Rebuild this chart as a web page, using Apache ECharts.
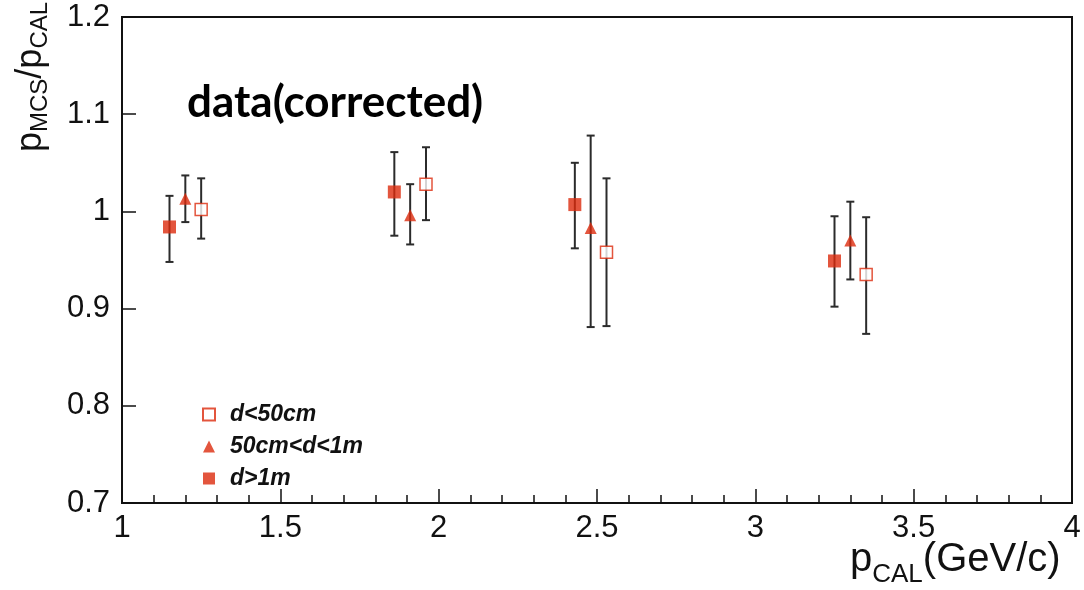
<!DOCTYPE html>
<html>
<head>
<meta charset="utf-8">
<script src="https://cdn.jsdelivr.net/npm/echarts@6/dist/echarts.min.js"></script>
<style>
  html, body { margin: 0; padding: 0; background: #fff; }
  #chart { width: 1084px; height: 590px; }
</style>
</head>
<body>
<div id="chart"></div>
<script>
// series names
const seriesNames = ['d<50cm', '50cm<d<1m', 'd>1m'];

// d<50cm (open squares)
const openX = [1.25, 1.96, 2.53, 3.35];
const openY = [1.002, 1.028, 0.958, 0.935];
const openLo = [0.972, 0.991, 0.882, 0.874];
const openHi = [1.034, 1.066, 1.034, 0.994];

// 50cm<d<1m (triangles)
const triX = [1.20, 1.91, 2.48, 3.30];
const triY = [1.013, 0.996, 0.983, 0.970];
const triLo = [0.989, 0.966, 0.881, 0.930];
const triHi = [1.037, 1.028, 1.078, 1.010];

// d>1m (filled squares)
const sqX = [1.15, 1.86, 2.43, 3.25];
const sqY = [0.984, 1.020, 1.007, 0.949];
const sqLo = [0.948, 0.975, 0.962, 0.902];
const sqHi = [1.016, 1.061, 1.050, 0.995];

// axis tick labels
const xTicks = [1, 1.5, 2, 2.5, 3, 3.5, 4];
const yTicks = [0.7, 0.8, 0.9, 1, 1.1, 1.2];

const red = '#dc2a0c';
const chart = echarts.init(document.getElementById('chart'));

function pts(xs, ys) { return xs.map((x, i) => [x, ys[i]]); }
function bars(xs, lo, hi) { return xs.map((x, i) => [x, lo[i], hi[i]]); }

function errRender(params, api) {
  const x = api.value(0);
  const a = api.coord([x, api.value(1)]);
  const b = api.coord([x, api.value(2)]);
  const st = { stroke: '#2b2b2b', lineWidth: 2 };
  return {
    type: 'group',
    children: [
      { type: 'line', shape: { x1: a[0], y1: a[1], x2: b[0], y2: b[1] }, style: st },
      { type: 'line', shape: { x1: a[0] - 4, y1: a[1], x2: a[0] + 4, y2: a[1] }, style: st },
      { type: 'line', shape: { x1: b[0] - 4, y1: b[1], x2: b[0] + 4, y2: b[1] }, style: st }
    ]
  };
}

function errSeries(data) {
  return { type: 'custom', renderItem: errRender, data: data, z: 2, silent: true,
    encode: { x: 0, y: [1, 2] } };
}

const labelFont = { fontFamily: 'Liberation Sans', fontSize: 31, color: '#111' };

chart.setOption({
  animation: false,
  backgroundColor: '#fff',
  grid: { left: 122, right: 12, top: 17, bottom: 87, show: true,
    borderColor: '#111', borderWidth: 2, backgroundColor: 'transparent' },
  title: {
    text: 'data(corrected)', left: 182, top: 76,
    textStyle: { fontFamily: 'Lato', fontWeight: 'bold', fontSize: 44, color: '#000' }
  },
  legend: {
    data: [
      { name: seriesNames[0], icon: 'rect' },
      { name: seriesNames[1], icon: 'triangle' },
      { name: seriesNames[2], icon: 'rect' }
    ],
    orient: 'vertical', left: 197, top: 398,
    itemWidth: 12, itemHeight: 12, itemGap: 9,
    textStyle: { fontFamily: 'Liberation Sans', fontStyle: 'italic', fontWeight: 'bold',
      fontSize: 23, color: '#111', padding: [0, 0, 0, 10] }
  },
  xAxis: {
    type: 'value', min: 1, max: 4, interval: 0.5,
    axisLine: { show: true, lineStyle: { color: '#111', width: 2 } },
    axisTick: { inside: true, length: 14, lineStyle: { color: '#111', width: 1.5 } },
    minorTick: { show: true, splitNumber: 5, length: 8, lineStyle: { color: '#111', width: 1.5 } },
    splitLine: { show: false },
    axisLabel: Object.assign({ margin: 10, formatter: v => String(+v.toFixed(1)),
      customValues: xTicks }, labelFont)
  },
  yAxis: {
    type: 'value', min: 0.7, max: 1.2, interval: 0.1,
    axisLine: { show: true, lineStyle: { color: '#111', width: 2 } },
    axisTick: { inside: true, length: 14, lineStyle: { color: '#111', width: 1.5 } },
    splitLine: { show: false },
    axisLabel: Object.assign({ margin: 12, formatter: v => String(+v.toFixed(1)),
      customValues: yTicks }, labelFont)
  },
  graphic: [
    {
      type: 'text', x: 10, y: 152, rotation: Math.PI / 2,
      style: {
        text: '{a|p}{b|MCS}{a|/p}{b|CAL}',
        rich: {
          a: { fontFamily: 'Liberation Sans', fontSize: 36, fill: '#111', lineHeight: 40 },
          b: { fontFamily: 'Liberation Sans', fontSize: 24, fill: '#111', padding: [18, 0, 0, 0] }
        }
      }
    },
    {
      type: 'text', x: 850, y: 532,
      style: {
        text: '{a|p}{b|CAL}{a|(GeV/c)}',
        rich: {
          a: { fontFamily: 'Liberation Sans', fontSize: 40, fill: '#111', lineHeight: 42 },
          b: { fontFamily: 'Liberation Sans', fontSize: 26, fill: '#111', padding: [30, 0, 0, 0] }
        }
      }
    }
  ],
  series: [
    errSeries(bars(openX, openLo, openHi)),
    errSeries(bars(triX, triLo, triHi)),
    errSeries(bars(sqX, sqLo, sqHi)),
    { name: seriesNames[0], type: 'scatter', data: pts(openX, openY), symbol: 'rect', symbolSize: 12, z: 5,
      itemStyle: { color: '#fff', borderColor: red, borderWidth: 1.5 } },
    { name: seriesNames[1], type: 'scatter', data: pts(triX, triY), symbol: 'triangle', symbolSize: 12, z: 5,
      itemStyle: { color: red } },
    { name: seriesNames[2], type: 'scatter', data: pts(sqX, sqY), symbol: 'rect', symbolSize: 13, z: 5,
      itemStyle: { color: red } }
  ]
});
</script>
</body>
</html>
